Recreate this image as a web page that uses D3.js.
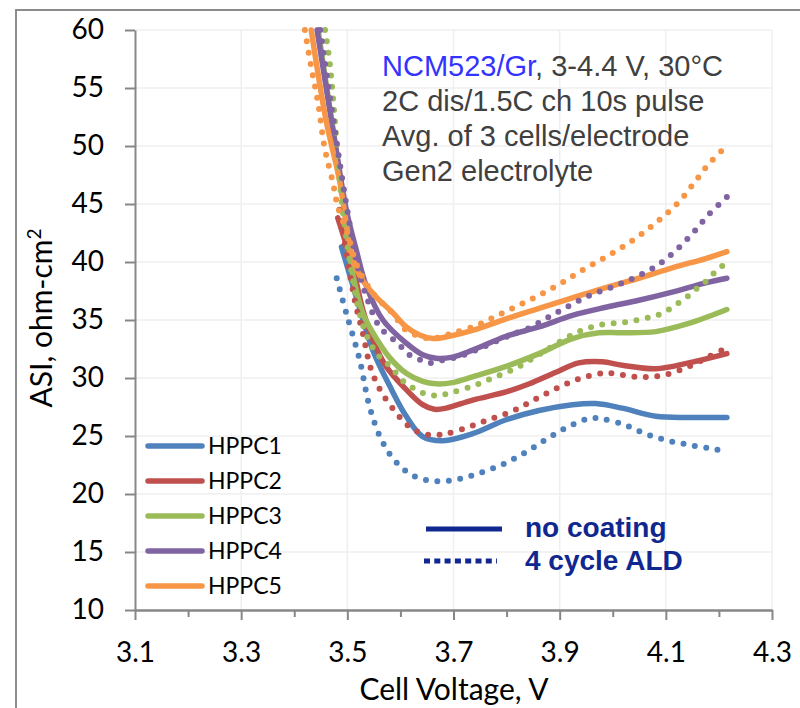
<!DOCTYPE html>
<html><head><meta charset="utf-8">
<script src="https://cdn.jsdelivr.net/npm/d3@7/dist/d3.min.js"></script>
<style>body{margin:0;background:#fff}svg{display:block}</style>
</head><body><svg id="c" width="800" height="708"></svg>
<script>
// ---- data ----
const seriesNames = ["HPPC1","HPPC2","HPPC3","HPPC4","HPPC5"];
const seriesColors = ["#4f81bd","#c0504d","#9bbb59","#8064a2","#f79646"];
const xTicks = [3.1,3.3,3.5,3.7,3.9,4.1,4.3];
const yTicks = [10,15,20,25,30,35,40,45,50,55,60];

// no coating (solid)
const hppc1SolidV = [3.489,3.518,3.548,3.580,3.611,3.642,3.680,3.736,3.799,3.861,3.924,3.968,4.018,4.081,4.143,4.215];
const hppc1SolidA = [41.3,36.8,32.4,29.3,26.7,24.95,24.6,25.2,26.4,27.2,27.7,27.8,27.4,26.7,26.6,26.6];
const hppc2SolidV = [3.482,3.510,3.529,3.548,3.573,3.611,3.642,3.664,3.686,3.736,3.799,3.843,3.893,3.936,3.980,4.018,4.081,4.143,4.215];
const hppc2SolidA = [43.8,39.6,35.9,33.3,31.0,29.0,27.7,27.3,27.4,28.1,28.8,29.5,30.5,31.3,31.4,31.1,30.8,31.3,32.1];
const hppc3SolidV = [3.445,3.476,3.495,3.510,3.529,3.548,3.579,3.611,3.642,3.667,3.698,3.736,3.799,3.861,3.924,3.974,4.018,4.081,4.143,4.215];
const hppc3SolidA = [60,50.5,44.5,39.0,35.6,33.9,31.8,30.4,29.7,29.5,29.6,30.1,31.0,32.1,33.4,33.9,33.9,34.0,34.7,35.9];
const hppc4SolidV = [3.443,3.476,3.498,3.517,3.536,3.567,3.611,3.642,3.667,3.698,3.736,3.799,3.861,3.924,3.987,4.049,4.112,4.175,4.215];
const hppc4SolidA = [60,50.5,44.5,41.0,37.9,35.0,33.0,32.0,31.7,31.8,32.4,33.6,34.4,35.4,36.1,36.7,37.4,38.2,38.6];
const hppc5SolidV = [3.432,3.460,3.485,3.498,3.510,3.529,3.554,3.586,3.611,3.636,3.661,3.692,3.736,3.799,3.861,3.924,3.987,4.049,4.112,4.175,4.215];
const hppc5SolidA = [60,52.2,47.1,43.3,40.2,38.4,37.0,35.6,34.4,33.7,33.4,33.6,34.1,35.1,36.0,36.9,37.8,38.6,39.5,40.3,40.9];

// 4 cycle ALD (dotted)
const hppc1DotV = [3.480,3.498,3.523,3.542,3.564,3.589,3.623,3.667,3.711,3.755,3.795,3.836,3.874,3.912,3.955,3.977,4.020,4.061,4.104,4.148,4.193,4.215];
const hppc1DotA = [38.6,35.6,31.6,27.5,24.7,22.9,21.6,21.1,21.3,21.9,22.6,23.6,24.7,25.7,26.5,26.5,26.0,25.2,24.6,24.2,23.85,23.6];
const hppc2DotV = [3.485,3.514,3.529,3.545,3.564,3.592,3.617,3.642,3.664,3.686,3.730,3.772,3.814,3.855,3.894,3.935,3.978,4.000,4.045,4.090,4.134,4.175,4.215];
const hppc2DotA = [44.5,36.7,33.9,30.7,28.8,27.0,25.8,25.2,25.1,25.2,25.8,26.5,27.2,28.2,29.1,29.9,30.4,30.4,30.1,30.2,30.8,31.7,32.6];
const hppc3DotV = [3.458,3.467,3.479,3.490,3.505,3.523,3.540,3.561,3.579,3.608,3.630,3.649,3.671,3.693,3.736,3.779,3.820,3.860,3.896,3.936,3.979,4.023,4.067,4.089,4.109,4.128,4.146,4.163,4.180,4.196,4.214];
const hppc3DotA = [60,57.1,50.8,45.0,40.0,35.6,33.3,31.8,31.1,29.6,29.0,28.6,28.5,28.7,29.3,30.1,30.9,32.0,33.0,34.0,34.6,34.8,35.2,35.5,36.0,36.6,37.2,37.9,38.5,39.3,39.9];
const hppc4DotV = [3.449,3.476,3.498,3.520,3.540,3.561,3.595,3.617,3.636,3.654,3.676,3.698,3.720,3.758,3.802,3.842,3.881,3.921,3.961,4.002,4.043,4.084,4.119,4.151,4.181,4.215];
const hppc4DotA = [60,51.5,45.0,39.5,36.5,34.4,33.0,32.0,31.6,31.3,31.5,31.7,32.0,32.7,33.6,34.3,35.3,36.3,37.2,37.9,38.7,39.7,41.0,42.5,44.1,45.6];
const hppc5DotV = [3.420,3.432,3.445,3.457,3.473,3.482,3.500,3.520,3.550,3.585,3.611,3.636,3.658,3.680,3.701,3.742,3.783,3.824,3.864,3.904,3.943,3.982,4.019,4.057,4.092,4.125,4.153,4.180,4.212];
const hppc5DotA = [60,56.8,53.7,49.9,46.8,44.8,42.5,39.5,37.2,35.6,34.1,33.6,33.4,33.6,33.9,34.5,35.4,36.3,37.2,38.2,39.3,40.3,41.3,42.5,43.8,45.2,46.8,48.4,49.9];

const solidV = [hppc1SolidV,hppc2SolidV,hppc3SolidV,hppc4SolidV,hppc5SolidV];
const solidA = [hppc1SolidA,hppc2SolidA,hppc3SolidA,hppc4SolidA,hppc5SolidA];
const dotV = [hppc1DotV,hppc2DotV,hppc3DotV,hppc4DotV,hppc5DotV];
const dotA = [hppc1DotA,hppc2DotA,hppc3DotA,hppc4DotA,hppc5DotA];

// ---- drawing ----
const svg = d3.select("#c");
const L = 135, R = 772, T = 30, B = 610;
const x = d3.scaleLinear().domain([3.1,4.3]).range([L,R]);
const y = d3.scaleLinear().domain([10,60]).range([B,T]);
const tickFont = "Lato, 'Open Sans', sans-serif";
const arial = "'Liberation Sans', Arial, sans-serif";

// outer border (left and top)
svg.append("path").attr("d","M16,708 L16,10 L800,10").attr("fill","none").attr("stroke","#8c8c8c").attr("stroke-width",2);

// grid
const grid = svg.append("g");
grid.selectAll("line.h").data(yTicks.filter(t=>t>10)).join("line")
  .attr("x1",L).attr("x2",R).attr("y1",d=>y(d)).attr("y2",d=>y(d))
  .attr("stroke","#efefef").attr("stroke-width",1.5);
grid.selectAll("line.v").data(xTicks.filter(t=>t>3.1)).join("line")
  .attr("x1",d=>x(d)).attr("x2",d=>x(d)).attr("y1",T).attr("y2",B)
  .attr("stroke","#efefef").attr("stroke-width",1.5);

// axes
function styleAxis(g){
  g.select(".domain").attr("stroke","#878787").attr("stroke-width",2);
  g.selectAll(".tick line").attr("stroke","#878787").attr("stroke-width",2);
  g.selectAll(".tick text").attr("fill","#000").style("font-family",tickFont).style("font-size","28px");
}
const xMinor = svg.append("g").attr("transform",`translate(0,${B})`)
  .call(d3.axisBottom(x).tickValues(d3.range(3.2,4.3,0.2)).tickSize(7).tickFormat("").tickSizeOuter(0));
styleAxis(xMinor);
const xAx = svg.append("g").attr("transform",`translate(0,${B})`)
  .call(d3.axisBottom(x).tickValues(xTicks).tickSize(10).tickPadding(23).tickFormat(d3.format(".1f")).tickSizeOuter(0));
styleAxis(xAx);
xAx.selectAll(".tick text").attr("dy","0.68em");
const yAx = svg.append("g").attr("transform",`translate(${L},0)`)
  .call(d3.axisLeft(y).tickValues(yTicks).tickSize(10).tickPadding(21).tickFormat(d3.format("d")).tickSizeOuter(0));
styleAxis(yAx);

// axis titles
svg.append("text").attr("x",454).attr("y",700).attr("text-anchor","middle")
  .style("font-family",tickFont).style("font-size","30px").text("Cell Voltage, V");
svg.append("text").attr("transform","translate(52,318) rotate(-90)").attr("text-anchor","middle")
  .style("font-family",tickFont).style("font-size","30px")
  .html('ASI, ohm-cm<tspan dy="-11" font-size="19px">2</tspan>');

// curves
svg.append("clipPath").attr("id","pc").append("rect").attr("x",L).attr("y",T-4).attr("width",R-L+10).attr("height",B-T+4);
const line = d3.line().x(d=>x(d[0])).y(d=>y(d[1])).curve(d3.curveCatmullRom.alpha(0.5));
const plot = svg.append("g").attr("clip-path","url(#pc)");
seriesNames.forEach((n,i)=>{
  plot.append("path").datum(d3.zip(solidV[i],solidA[i])).attr("d",line)
    .attr("fill","none").attr("stroke",seriesColors[i]).attr("stroke-width",5.5)
    .attr("stroke-linecap","round").attr("stroke-linejoin","round");
});
seriesNames.forEach((n,i)=>{
  plot.append("path").datum(d3.zip(dotV[i],dotA[i])).attr("d",line)
    .attr("fill","none").attr("stroke",seriesColors[i]).attr("stroke-width",6)
    .attr("stroke-linecap","round").attr("stroke-dasharray","0,11.5");
});

// HPPC legend
const leg = svg.append("g");
seriesNames.forEach((n,i)=>{
  const yy = 446 + i*35;
  leg.append("line").attr("x1",148).attr("x2",202).attr("y1",yy).attr("y2",yy)
    .attr("stroke",seriesColors[i]).attr("stroke-width",5.5).attr("stroke-linecap","round");
  leg.append("text").attr("x",208).attr("y",yy).attr("dy","0.36em")
    .style("font-family",tickFont).style("font-size","23px").text(n);
});

// style legend
const navy = "#10278f";
svg.append("line").attr("x1",426).attr("x2",502).attr("y1",529).attr("y2",529).attr("stroke",navy).attr("stroke-width",5);
svg.append("line").attr("x1",424).attr("x2",497).attr("y1",561).attr("y2",561).attr("stroke",navy).attr("stroke-width",5).attr("stroke-dasharray","6,4.3");
svg.append("text").attr("x",525).attr("y",537).attr("fill",navy)
  .style("font-family",arial).style("font-weight","bold").style("font-size","28px").text("no coating");
svg.append("text").attr("x",525).attr("y",570).attr("fill",navy)
  .style("font-family",arial).style("font-weight","bold").style("font-size","28px").text("4 cycle ALD");

// annotation
const ann = ["2C dis/1.5C ch 10s pulse","Avg. of 3 cells/electrode","Gen2 electrolyte"];
const a0 = svg.append("text").attr("x",382).attr("y",76).attr("fill","#404040")
  .style("font-family",arial).style("font-size","29px");
a0.append("tspan").attr("fill","#3333ff").text("NCM523/Gr");
a0.append("tspan").text(", 3-4.4 V, 30°C");
ann.forEach((t,i)=>{
  svg.append("text").attr("x",382).attr("y",111+i*35).attr("fill","#404040")
    .style("font-family",arial).style("font-size","29px").text(t);
});
</script></body></html>
